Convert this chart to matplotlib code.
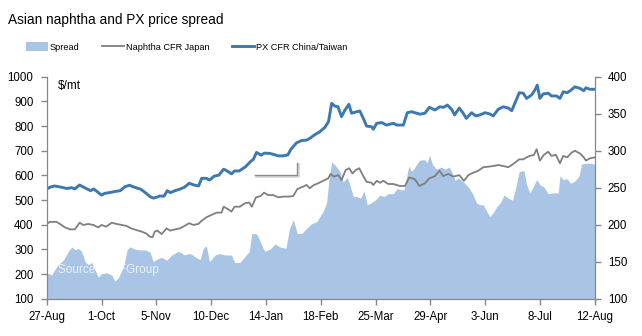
import matplotlib
matplotlib.use("Agg")
import matplotlib.pyplot as plt
import matplotlib.dates as mdates
from matplotlib.patches import Patch
from matplotlib.lines import Line2D
import pandas as pd

# day offsets from 27-Aug-2012
start = pd.Timestamp("2012-08-27")

px_day = [0, 2, 5, 8.5, 12.8, 16, 18, 21, 23, 28, 30, 33, 35, 37, 40, 44, 47, 50, 53, 55, 60, 63, 66, 68,
          70, 72, 75, 77, 79, 82, 85, 88, 91, 94, 97, 99, 102, 104, 107, 110, 113, 115, 118, 120, 123, 127,
          130, 132, 134, 137, 139, 142.6, 145.8, 148, 151, 154, 156, 159.6, 162.8, 166, 168, 171, 174.5,
          177.7, 180, 182, 184, 186, 188.3, 190.5, 193, 194.7, 198, 200, 202.2, 204.3, 207.5, 208.6, 210.8,
          214, 217, 221.4, 223.5, 227.8, 230.3, 233, 236.3, 238.4, 241.6, 244.4, 248, 251, 253.5, 255.9,
          258.6, 260.5, 263.5, 266, 268, 271.4, 274, 276.7, 280, 283, 285.2, 288.4, 291.6, 294.8, 297, 299,
          301.8, 304.4, 306.5, 309.7, 311.8, 313.3, 315, 317.1, 320.3, 322.4, 325.6, 327.8, 329.9, 332.4,
          335, 337.3, 340.5, 343, 344.4, 347, 350]
px_val = [544, 552, 557, 553, 547, 550, 545, 561, 554, 538, 545, 530, 520, 527, 530, 535, 538, 554, 560, 554,
          544, 530, 514, 508, 511, 516, 516, 538, 530, 538, 544, 552, 568, 561, 557, 588, 588, 581, 597, 601,
          625, 619, 606, 618, 618, 635, 655, 665, 693, 682, 690, 689, 683, 679, 679, 683, 706, 732, 741, 743,
          750, 764, 777, 795, 818, 892, 881, 878, 838, 865, 888, 852, 858, 861, 831, 800, 797, 787, 811, 814,
          804, 811, 804, 804, 854, 858, 852, 848, 852, 876, 865, 878, 876, 885, 868, 845, 873, 852, 831, 854,
          841, 845, 854, 849, 841, 868, 878, 873, 862, 892, 935, 933, 912, 926, 946, 966, 912, 930, 933, 922,
          922, 912, 939, 935, 946, 959, 953, 943, 955, 949, 949]

nap_day = [0, 2, 4, 6, 8.5, 11.7, 15, 18, 21, 23.4, 26.6, 29.8, 33, 35, 38, 41.5, 44.7, 47.9, 51, 54, 57.4,
           60.6, 63.4, 66, 67.7, 69, 70.7, 73.4, 76.6, 78.8, 82, 85, 88, 91, 93.7, 96.9, 99, 102, 105, 108.6,
           111.7, 113, 116, 118, 120, 123.4, 126.6, 129.4, 131, 133.7, 136.6, 138.8, 141.5, 144.7, 147.9, 151,
           154.3, 157.5, 160, 162.8, 166, 168, 170.7, 173.4, 176.6, 179.8, 181.3, 183.4, 186.2, 188.3, 191,
           193.2, 195.3, 197.5, 199.6, 202.2, 204.3, 207.5, 208.6, 210.8, 212.9, 215, 218.2, 221.4, 225.6,
           228.8, 231.6, 235.2, 238, 241.6, 244.4, 248, 250.8, 253.3, 256.5, 259.7, 263.5, 266.5, 269.3,
           272.5, 275.7, 278.8, 282, 285.2, 288.4, 291.6, 294.8, 298, 301.8, 304.4, 306.5, 308.6, 311.2,
           312.9, 315, 317.5, 320.3, 322.4, 325.2, 327.8, 329.9, 332.4, 335.2, 337.3, 340.5, 343, 344.4,
           347, 350]
nap_val = [403, 412, 411, 412, 403, 389, 381, 381, 408, 399, 403, 399, 389, 399, 392, 408, 403, 399, 395, 385,
           378, 372, 365, 351, 350, 372, 376, 362, 385, 376, 381, 385, 395, 406, 399, 403, 416, 430, 439, 449,
           449, 473, 462, 453, 473, 473, 487, 490, 473, 511, 516, 530, 520, 520, 511, 514, 514, 516, 544, 552,
           561, 548, 561, 568, 578, 588, 606, 595, 601, 581, 622, 629, 608, 622, 629, 597, 574, 570, 561, 578,
           570, 578, 565, 565, 557, 557, 592, 584, 557, 568, 588, 597, 619, 597, 606, 595, 601, 578, 601, 611,
           619, 633, 635, 638, 642, 638, 633, 646, 665, 665, 673, 679, 683, 706, 660, 683, 696, 679, 683, 649,
           679, 673, 692, 700, 689, 673, 660, 669, 673]

spr_day = [0, 1.7, 3.2, 5.3, 7.4, 10.6, 13.8, 16, 18, 20.2, 22.3, 24.5, 26.6, 28.7, 30.9, 33, 35, 38.3, 41.5,
           43.6, 45.7, 49, 51.5, 53.6, 56.4, 59.6, 62.8, 66, 68, 70, 73.4, 76.6, 80, 84, 86, 88, 90.5, 92.6,
           95.8, 98, 100, 102, 104, 107.5, 110.7, 113.9, 118, 120, 123.4, 126.6, 129.4, 131, 133.7, 135,
           138.3, 139.4, 142.6, 145.8, 149, 152.8, 155, 157.5, 160, 162.8, 166, 169, 172.4, 174.5, 176.6,
           178.8, 180.2, 182, 184, 187.3, 189.4, 192, 194, 195.8, 197.9, 200.5, 202.6, 204.7, 207.5, 209.7,
           212.9, 215.4, 218.2, 221.4, 224, 226, 228.2, 229.9, 231.2, 233.1, 235.2, 238, 241, 243.1, 244.4,
           246.5, 249, 252.2, 254.4, 257.1, 258.6, 260.8, 262.9, 266.1, 269.3, 272, 274.6, 276.7, 278.8, 281,
           283, 285.2, 287.3, 289.9, 292, 294.8, 297.5, 299.7, 301.8, 304.8, 306.5, 308.6, 310.7, 312.9, 315,
           317.5, 320.3, 323.5, 326.7, 327.8, 329.9, 332.4, 334.6, 337.3, 340.1, 341.6, 344.4, 348, 350]
spr_val = [133, 134, 132, 140, 146, 152, 164, 170, 166, 168, 164, 150, 146, 149, 139, 129, 134, 135, 132, 124,
           128, 143, 167, 170, 167, 166, 166, 163, 150, 153, 156, 152, 159, 164, 162, 159, 161, 160, 155, 153,
           168, 171, 150, 159, 161, 159, 159, 149, 149, 157, 164, 188, 188, 184, 168, 164, 167, 174, 170, 168,
           194, 207, 188, 188, 195, 201, 204, 211, 218, 230, 260, 285, 281, 272, 258, 264, 251, 238, 238, 236,
           246, 227, 230, 233, 240, 238, 242, 242, 249, 247, 247, 265, 279, 272, 278, 287, 288, 284, 294, 281,
           275, 278, 275, 278, 272, 260, 263, 258, 251, 242, 229, 227, 227, 218, 211, 216, 224, 230, 240, 236,
           233, 251, 272, 273, 254, 243, 251, 261, 254, 251, 242, 243, 243, 266, 261, 262, 256, 259, 266, 282,
           283, 283, 281]

tick_days = list(range(0, 351, 35))

px_dates = start + pd.to_timedelta(px_day, unit="D")
nap_dates = start + pd.to_timedelta(nap_day, unit="D")
spr_dates = start + pd.to_timedelta(spr_day, unit="D")
tick_dates = start + pd.to_timedelta(tick_days, unit="D")

plt.rcParams['font.family'] = ['Liberation Sans', 'DejaVu Sans']
spread_col = '#aac4e5'
nap_col = '#7f7f7f'
px_col = '#3d78b1'
axis_col = '#868686'

fig = plt.figure(figsize=(6.42, 3.36), dpi=100)
ax = fig.add_axes([46.7 / 642, 1 - 298.7 / 336, 548 / 642, 222 / 336])
ax2 = ax.twinx()
ax.set_zorder(ax2.get_zorder() + 1)
ax.patch.set_visible(False)

ax2.fill_between(spr_dates, 100, spr_val, color=spread_col, linewidth=0)
ax.plot(nap_dates, nap_val, color=nap_col, lw=1.3, solid_joinstyle='round')
ax.plot(px_dates, px_val, color=px_col, lw=2.1, solid_joinstyle='round')

ax.set_xlim(start, start + pd.Timedelta(days=350))
ax.set_ylim(100, 1000)
ax2.set_ylim(100, 400)
ax.set_yticks(range(100, 1001, 100))
ax2.set_yticks(range(100, 401, 50))
ax.set_xticks(tick_dates)
ax.xaxis.set_major_formatter(mdates.DateFormatter('%-d-%b'))

for a in (ax, ax2):
    for s in a.spines.values():
        s.set_color(axis_col)
    a.spines['top'].set_visible(False)
    a.tick_params(colors=axis_col, labelcolor='black', labelsize=8.3, length=4, width=1)
ax.tick_params(axis='y', pad=5.5)
ax2.tick_params(axis='y', pad=5.5)
ax.tick_params(axis='x', pad=5)

ax.text(0.02, 0.985, '$/mt', transform=ax.transAxes, fontsize=8.5, va='top', ha='left')
ax.text(0.02, 0.13, 'Source: CCFGroup', transform=ax.transAxes, fontsize=8.5,
        color='white', alpha=0.75, va='center', ha='left')

fig.text(8 / 642, 1 - 20 / 336, 'Asian naphtha and PX price spread', fontsize=9.8, va='center', ha='left')

handles = [Patch(facecolor=spread_col, edgecolor='none'),
           Line2D([], [], color=nap_col, lw=1.3),
           Line2D([], [], color=px_col, lw=2.1)]
fig.legend(handles, ['Spread', 'Naphtha CFR Japan', 'PX CFR China/Taiwan'], ncol=3,
           loc='center left', bbox_to_anchor=(18 / 642, 1 - 47 / 336), frameon=False,
           fontsize=6.6, handlelength=2.4, handleheight=1.0, handletextpad=0.15, columnspacing=2.5)

# small grey callout left on the chart
fig.add_artist(Line2D([256 / 642, 298 / 642, 298 / 642], [1 - 176 / 336, 1 - 176 / 336, 1 - 164 / 336],
                      color='#d8d8d8', lw=2.0))
fig.add_artist(Line2D([255 / 642, 297 / 642, 297 / 642], [1 - 175 / 336, 1 - 175 / 336, 1 - 163 / 336],
                      color='#8c8c8c', lw=1.0))

fig.savefig('out.png', dpi=100)
